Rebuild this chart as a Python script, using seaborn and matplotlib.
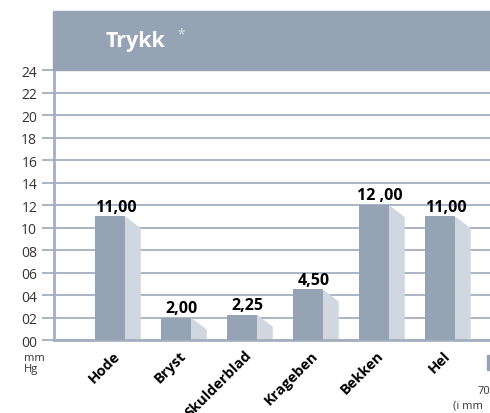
import seaborn as sns
import matplotlib.pyplot as plt
import matplotlib.transforms as mtransforms
from matplotlib.patches import Rectangle

# data
categories = ['Hode', 'Bryst', 'Skulderblad', 'Krageben', 'Bekken', 'Hel']
values = [11.00, 2.00, 2.25, 4.50, 12.00, 11.00]
value_labels = ['11,00', '2,00', '2,25', '4,50', '12 ,00', '11,00']
yticks = [0, 2, 4, 6, 8, 10, 12, 14, 16, 18, 20, 22, 24]

front = '#95a3b5'
side = '#d0d7e1'
grid = '#a3afc0'

sns.set_style('white')
plt.rcParams['font.family'] = ['Open Sans', 'DejaVu Sans']

fig = plt.figure(figsize=(4.9, 4.14), dpi=100)
ax = fig.add_axes([0.110, 0.1763, 0.890, 0.6522])

sns.barplot(x=categories, y=values, color=front, width=0.455, saturation=1,
            linewidth=0, ax=ax, zorder=3)

# fake 3d side faces
depth, drop = 0.24, 1.07
for p in ax.patches[:len(values)]:
    xr = p.get_x() + p.get_width()
    h = p.get_height()
    ax.fill([xr, xr, xr + depth, xr + depth], [0, h, h - drop, 0],
            color=side, lw=0, zorder=2)

for i, (v, lab) in enumerate(zip(values, value_labels)):
    ax.text(i + 0.09, v + 0.15, lab, ha='center', va='bottom',
            fontsize=11.5, fontweight='bold', color='black', zorder=4)

ax.set_xlim(-0.85, 5.76)
ax.set_ylim(0, 24)
ax.set_yticks(yticks)
ax.set_yticklabels([f'{t:02d}' for t in yticks], fontsize=10, color='#333333')
ax.yaxis.grid(True, color=grid, lw=1.3, zorder=0)
ax.tick_params(axis='y', length=9, width=1.3, color=grid, pad=3, left=True)
ax.tick_params(axis='x', length=0, pad=2)
ax.set_xticks(range(len(categories)))
ax.set_xticklabels(categories, rotation=45, ha='right', rotation_mode='anchor',
                   fontsize=10.5, fontweight='bold', color='black')
shift = mtransforms.ScaledTranslation(0.03, -0.05, fig.dpi_scale_trans)
for lbl in ax.get_xticklabels():
    lbl.set_transform(lbl.get_transform() + shift)
ax.set_xlabel('')
ax.set_ylabel('')
for s in ['top', 'right']:
    ax.spines[s].set_visible(False)
ax.spines['left'].set_color(grid)
ax.spines['left'].set_linewidth(2)
ax.spines['bottom'].set_color(grid)
ax.spines['bottom'].set_linewidth(2)

# title band
fig.patches.append(Rectangle((53 / 490, 1 - 71 / 414), 1, 59 / 414,
                             transform=fig.transFigure, color=front, zorder=0))
fig.text(106 / 490, 1 - 41 / 414, 'Trykk', color='white', fontsize=15.5,
         fontweight='bold', va='center')
fig.text(177 / 490, 1 - 35 / 414, '*', color='#dde3ea', fontsize=10, va='center')

fig.text(24 / 490, 1 - 364 / 414, 'mm\nHg', fontsize=8, color='#333333',
         va='center', linespacing=1.1)

# cut-off legend bits at right edge
fig.patches.append(Rectangle((487 / 490, 1 - 371 / 414), 0.02, 15 / 414,
                             transform=fig.transFigure, color=front))
fig.text(478 / 490, 1 - 392 / 414, '70', fontsize=8, color='#333333', va='center')
fig.text(453 / 490, 1 - 406 / 414, '(i mm', fontsize=8, color='#333333', va='center')

fig.savefig('out.png', dpi=100)
